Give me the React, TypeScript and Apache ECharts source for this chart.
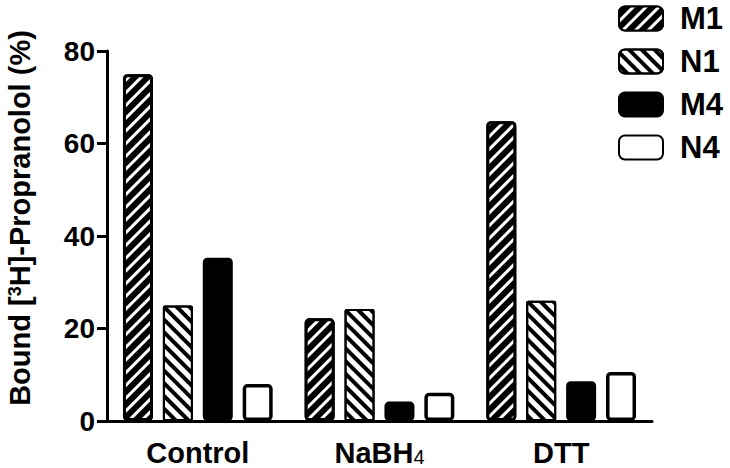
import React, { useEffect, useRef } from 'react';
import * as echarts from 'echarts';

const categories = ['Control', 'NaBH4', 'DTT'];
const seriesNames = ['M1', 'N1', 'M4', 'N4'];
const m1Values = [75, 22.2, 64.8];
const n1Values = [25, 24.2, 26];
const m4Values = [35.3, 4.2, 8.6];
const n4Values = [8, 6.1, 10.6];
const yTicks = [0, 20, 40, 60, 80];
const yTitle = 'Bound [{sup|3}H]-Propranolol (%)';

const FONT = '"Liberation Sans", Arial, Helvetica, sans-serif';

export default function App() {
  const ref = useRef<HTMLDivElement>(null);
  useEffect(() => {
    if (!ref.current) return;
    const chart = echarts.init(ref.current, undefined, { renderer: 'svg' });
    const dataSets = [m1Values, n1Values, m4Values, n4Values];
    const styles: any[] = [
      {
        color: '#000', borderColor: '#000', borderWidth: 3, borderRadius: 3,
        decal: { symbol: 'rect', symbolSize: 1, color: '#fff', dashArrayX: [1, 0], dashArrayY: [3, 6], rotation: -Math.PI / 4 },
      },
      {
        color: '#fff', borderColor: '#000', borderWidth: 2, borderRadius: 1,
        decal: { symbol: 'rect', symbolSize: 1, color: '#000', dashArrayX: [1, 0], dashArrayY: [4, 5], rotation: Math.PI / 4 },
      },
      { color: '#000', borderColor: '#000', borderWidth: 3, borderRadius: 3 },
      { color: '#fff', borderColor: '#000', borderWidth: 3.5, borderRadius: 3 },
    ];
    chart.setOption({
      animation: false,
      grid: { left: 107, right: 78, top: 51, bottom: 47, containLabel: false },
      legend: {
        orient: 'vertical',
        left: 618,
        top: 3,
        padding: 0,
        itemWidth: 44,
        itemHeight: 24,
        itemGap: 12,
        icon: 'roundRect',
        data: seriesNames,
        textStyle: { fontSize: 31, fontWeight: 'bold', color: '#000', fontFamily: FONT, lineHeight: 31, padding: [0, 0, 0, 12] },
      },
      xAxis: {
        type: 'category',
        data: categories,
        axisLine: { lineStyle: { color: '#000', width: 3 } },
        axisTick: { alignWithLabel: true, length: 9, lineStyle: { color: '#000', width: 3 } },
        axisLabel: {
          interval: 0,
          margin: 17,
          fontSize: 29,
          fontWeight: 'bold',
          color: '#000',
          fontFamily: FONT,
          formatter: (v: string) => (v === 'NaBH4' ? 'NaBH{sub|4}' : v),
          rich: {
            sub: { fontSize: 20, fontWeight: 'normal', color: '#000', fontFamily: FONT, verticalAlign: 'bottom', padding: [6, 0, 0, 0] },
          },
        },
      },
      yAxis: {
        type: 'value',
        min: yTicks[0],
        max: yTicks[yTicks.length - 1],
        interval: yTicks[1] - yTicks[0],
        splitLine: { show: false },
        axisLine: { show: true, lineStyle: { color: '#000', width: 3 } },
        axisTick: { show: true, length: 10, lineStyle: { color: '#000', width: 3 } },
        axisLabel: { margin: 12, fontSize: 28, fontWeight: 'bold', color: '#000', fontFamily: FONT },
      },
      graphic: [
        {
          type: 'text',
          x: 20,
          y: 218,
          rotation: Math.PI / 2,
          style: {
            text: yTitle,
            textAlign: 'center',
            textVerticalAlign: 'middle',
            fontSize: 29,
            fontWeight: 'bold',
            fontFamily: FONT,
            fill: '#000',
            rich: {
              sup: { fontSize: 18, fontWeight: 'bold', fontFamily: FONT, fill: '#000', verticalAlign: 'top' },
            },
          },
        },
      ],
      series: seriesNames.map((name, i) => ({
        name,
        type: 'bar',
        data: dataSets[i],
        barWidth: 30,
        barGap: '33%',
        itemStyle: styles[i],
      })),
    });
    return () => chart.dispose();
  }, []);
  return <div ref={ref} style={{ width: 730, height: 468, position: 'absolute', left: 0, top: 0 }} />;
}
